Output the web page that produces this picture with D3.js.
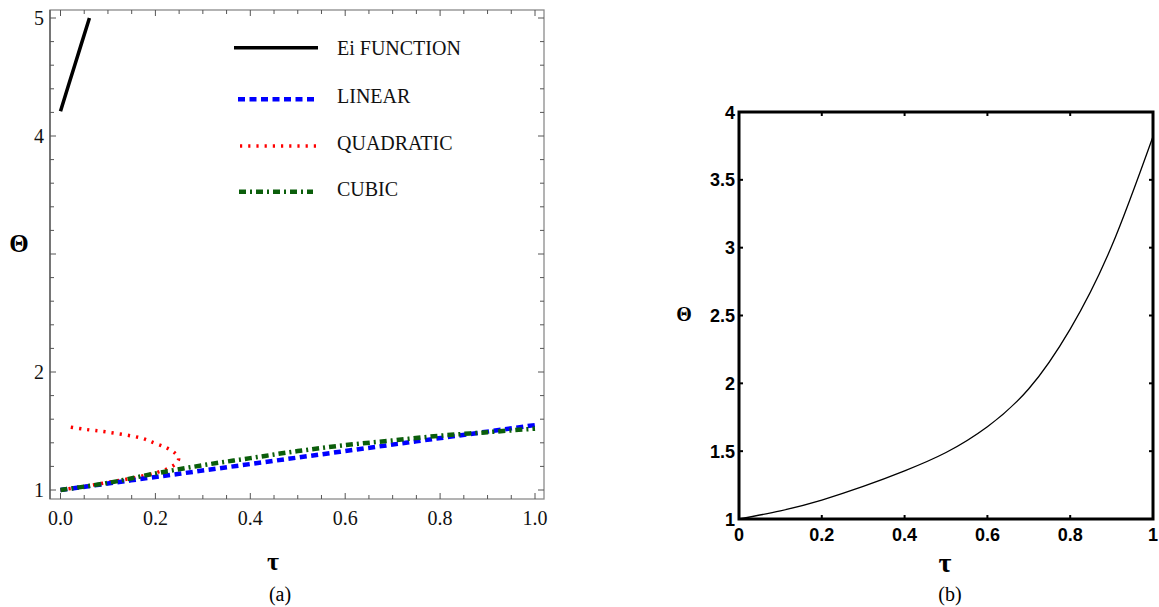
<!DOCTYPE html>
<html>
<head>
<meta charset="utf-8">
<script src="https://cdn.jsdelivr.net/npm/d3@7"></script>
<style>
  html, body { margin: 0; padding: 0; background: #fff; }
  svg { display: block; }
</style>
</head>
<body>
<svg id="chart" width="1159" height="607"></svg>
<script>
// ---------- DATA (panel a) ----------
const seriesNames = ["Ei FUNCTION", "LINEAR", "QUADRATIC", "CUBIC"];
const eiTau    = [0.0, 0.03, 0.061];
const eiTheta  = [4.21, 4.60, 5.0];
const linTau   = [0.0, 0.25, 0.5, 0.75, 1.0];
const linTheta = [1.0, 1.1375, 1.275, 1.4125, 1.55];
// quadratic (lower branch, then back along upper branch)
const quadTau   = [0.0, 0.05, 0.1, 0.15, 0.2, 0.23, 0.245, 0.249, 0.242, 0.225, 0.2, 0.17, 0.1, 0.05, 0.01];
const quadTheta = [1.0, 1.03, 1.065, 1.10, 1.145, 1.19, 1.23, 1.27, 1.31, 1.355, 1.395, 1.44, 1.49, 1.515, 1.54];
const cubTau   = [0.0, 0.1, 0.2, 0.3, 0.4, 0.5, 0.6, 0.7, 0.8, 0.9, 1.0];
const cubTheta = [1.0, 1.06, 1.14, 1.21, 1.27, 1.33, 1.38, 1.42, 1.46, 1.49, 1.52];
const aXTicks = [0, 0.2, 0.4, 0.6, 0.8, 1.0];
const aYTickLabels = [1, 2, 4, 5];

// ---------- DATA (panel b) ----------
const bTau   = [0, 0.1, 0.2, 0.3, 0.4, 0.5, 0.6, 0.7, 0.8, 0.9, 1.0];
const bTheta = [1, 1.06, 1.14, 1.24, 1.355, 1.49, 1.68, 1.96, 2.40, 3.01, 3.82];
const bXTicks = [0, 0.2, 0.4, 0.6, 0.8, 1];
const bYTicks = [1, 1.5, 2, 2.5, 3, 3.5, 4];

const svg = d3.select("#chart");
const serif = "'Liberation Serif', 'Times New Roman', serif";
const sans = "'Liberation Sans', Arial, sans-serif";

// =============== PANEL A =================
const ax = d3.scaleLinear().domain([0, 1]).range([60.5, 535]);
const ay = d3.scaleLinear().domain([1, 5]).range([490, 18]);
const aL = 50, aR = 544, aT = 10, aB = 499;

const gA = svg.append("g");
gA.append("defs").append("clipPath").attr("id", "clipA")
  .append("rect").attr("x", aL).attr("y", aT).attr("width", aR - aL).attr("height", aB - aT);

// frame
gA.append("rect").attr("x", aL).attr("y", aT).attr("width", aR - aL).attr("height", aB - aT)
  .attr("fill", "none").attr("stroke", "#8a8a8a").attr("stroke-width", 1.3);
gA.append("line").attr("x1", aL).attr("x2", aL).attr("y1", aT).attr("y2", aB)
  .attr("stroke", "#555").attr("stroke-width", 1.3);

// x ticks (minor every 0.05) bottom & top, inward
const xMinor = d3.range(0, 1.0001, 0.05);
const isMajorX = v => Math.abs(v * 5 - Math.round(v * 5)) < 1e-6;
xMinor.forEach(v => {
  const len = isMajorX(v) ? 6 : 4;
  const x = ax(v);
  gA.append("line").attr("x1", x).attr("x2", x).attr("y1", aB).attr("y2", aB - len)
    .attr("stroke", "#555").attr("stroke-width", 1);
  gA.append("line").attr("x1", x).attr("x2", x).attr("y1", aT).attr("y2", aT + len)
    .attr("stroke", "#555").attr("stroke-width", 1);
});
// y ticks (minor every 0.2) left & right
const yMinor = d3.range(1, 5.0001, 0.2);
yMinor.forEach(v => {
  const maj = Math.abs(v - Math.round(v)) < 1e-6;
  const len = maj ? 6 : 4;
  const y = ay(v);
  gA.append("line").attr("x1", aL).attr("x2", aL + len).attr("y1", y).attr("y2", y)
    .attr("stroke", "#555").attr("stroke-width", 1);
  gA.append("line").attr("x1", aR).attr("x2", aR - len).attr("y1", y).attr("y2", y)
    .attr("stroke", "#555").attr("stroke-width", 1);
});

// tick labels
gA.selectAll("text.xl").data(aXTicks).enter().append("text")
  .attr("x", d => ax(d)).attr("y", 525).attr("text-anchor", "middle")
  .attr("font-family", serif).attr("font-size", 20).attr("fill", "#111")
  .text(d => d3.format(".1f")(d));
gA.selectAll("text.yl").data(aYTickLabels).enter().append("text")
  .attr("x", 44).attr("y", d => ay(d) + 7).attr("text-anchor", "end")
  .attr("font-family", serif).attr("font-size", 20).attr("fill", "#111")
  .text(d => d);

// axis labels
gA.append("text").attr("x", 273).attr("y", 570).attr("text-anchor", "middle")
  .attr("font-family", serif).attr("font-weight", "bold").attr("font-size", 26).text("τ");
gA.append("text").attr("x", 19).attr("y", 252).attr("text-anchor", "middle")
  .attr("font-family", serif).attr("font-weight", "bold").attr("font-size", 25).text("Θ");
gA.append("text").attr("x", 280).attr("y", 601).attr("text-anchor", "middle")
  .attr("font-family", serif).attr("font-size", 20).text("(a)");

// series
const styles = [
  { color: "#000000", width: 3.5, dash: null },
  { color: "#0000ff", width: 4.5, dash: "7,4.5" },
  { color: "#ff0000", width: 3.5, dash: "2.2,6" },
  { color: "#0b5e0b", width: 4.5, dash: "7,4,2,4" }
];
const seriesData = [
  d3.zip(eiTau, eiTheta),
  d3.zip(linTau, linTheta),
  d3.zip(quadTau, quadTheta),
  d3.zip(cubTau, cubTheta)
];
const lineA = d3.line().x(d => ax(d[0])).y(d => ay(d[1])).curve(d3.curveCatmullRom.alpha(0.5));
const plotA = gA.append("g").attr("clip-path", "url(#clipA)");
// draw order: red, blue, green (green over), then Ei
[2, 1, 3, 0].forEach(i => {
  const p = plotA.append("path").attr("d", lineA(seriesData[i]))
    .attr("fill", "none").attr("stroke", styles[i].color)
    .attr("stroke-width", styles[i].width);
  if (styles[i].dash) p.attr("stroke-dasharray", styles[i].dash);
});

// legend
const legLineY = [47.7, 99.3, 146, 191.7];
const legX1 = [234, 238, 240, 239];
const legX2 = [318, 318, 322, 313];
const legTextY = [55, 103, 150, 196];
seriesNames.forEach((name, i) => {
  const l = gA.append("line").attr("x1", legX1[i]).attr("x2", legX2[i])
    .attr("y1", legLineY[i]).attr("y2", legLineY[i])
    .attr("stroke", styles[i].color).attr("stroke-width", styles[i].width);
  if (styles[i].dash) l.attr("stroke-dasharray", styles[i].dash);
  gA.append("text").attr("x", 337).attr("y", legTextY[i])
    .attr("font-family", serif).attr("font-size", 20).attr("fill", "#111").text(name);
});

// =============== PANEL B =================
const bx = d3.scaleLinear().domain([0, 1]).range([739, 1153]);
const by = d3.scaleLinear().domain([1, 4]).range([519, 112]);
const gB = svg.append("g");

// ticks inward on all sides
bXTicks.forEach(v => {
  const x = bx(v);
  gB.append("line").attr("x1", x).attr("x2", x).attr("y1", by(1)).attr("y2", by(1) - 4)
    .attr("stroke", "#000").attr("stroke-width", 2);
  gB.append("line").attr("x1", x).attr("x2", x).attr("y1", by(4)).attr("y2", by(4) + 4)
    .attr("stroke", "#000").attr("stroke-width", 2);
});
bYTicks.forEach(v => {
  const y = by(v);
  gB.append("line").attr("x1", bx(0)).attr("x2", bx(0) + 4).attr("y1", y).attr("y2", y)
    .attr("stroke", "#000").attr("stroke-width", 2);
  gB.append("line").attr("x1", bx(1)).attr("x2", bx(1) - 4).attr("y1", y).attr("y2", y)
    .attr("stroke", "#000").attr("stroke-width", 2);
});

// curve
const lineB = d3.line().x((d, i) => bx(bTau[i])).y((d, i) => by(bTheta[i])).curve(d3.curveNatural);
gB.append("path").attr("d", lineB(bTau)).attr("fill", "none")
  .attr("stroke", "#000").attr("stroke-width", 1.3);

// frame
gB.append("rect").attr("x", bx(0)).attr("y", by(4)).attr("width", bx(1) - bx(0)).attr("height", by(1) - by(4))
  .attr("fill", "none").attr("stroke", "#000").attr("stroke-width", 3);

// tick labels
gB.selectAll("text.bx").data(bXTicks).enter().append("text")
  .attr("x", d => bx(d)).attr("y", 541).attr("text-anchor", "middle")
  .attr("font-family", sans).attr("font-weight", "bold").attr("font-size", 18)
  .text(d => d3.format("~g")(d));
gB.selectAll("text.by").data(bYTicks).enter().append("text")
  .attr("x", 735).attr("y", d => by(d) + 6.5).attr("text-anchor", "end")
  .attr("font-family", sans).attr("font-weight", "bold").attr("font-size", 18)
  .text(d => d3.format("~g")(d));

gB.append("text").attr("x", 945).attr("y", 572).attr("text-anchor", "middle")
  .attr("font-family", serif).attr("font-weight", "bold").attr("font-size", 28).text("τ");
gB.append("text").attr("x", 684).attr("y", 321).attr("text-anchor", "middle")
  .attr("font-family", serif).attr("font-weight", "bold").attr("font-size", 20).text("Θ");
gB.append("text").attr("x", 950).attr("y", 601).attr("text-anchor", "middle")
  .attr("font-family", serif).attr("font-size", 20).text("(b)");
</script>
</body>
</html>
